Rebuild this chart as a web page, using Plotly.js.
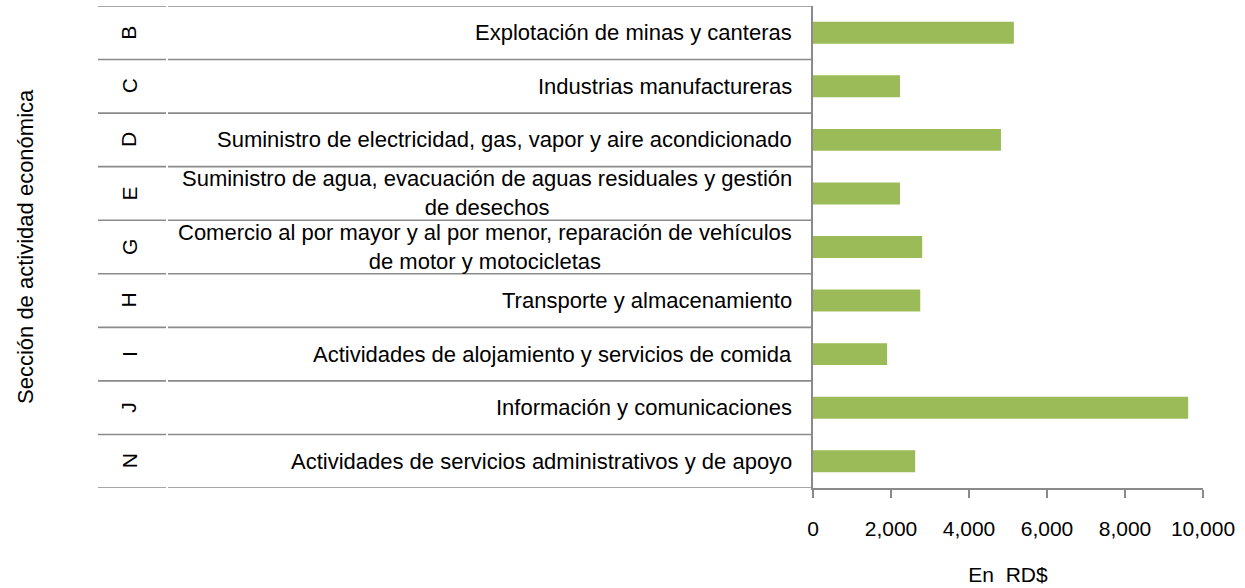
<!DOCTYPE html>
<html>
<head>
<meta charset="utf-8">
<script src="https://cdn.plot.ly/plotly-3.0.1.min.js"></script>
<style>html,body{margin:0;padding:0;background:#fff;}#chart{width:1245px;height:588px;}</style>
</head>
<body>
<div id="chart"></div>
<script>
var letters = ['B','C','D','E','G','H','I','J','N'];
var sections = [
  'Explotación de minas y canteras',
  'Industrias manufactureras',
  'Suministro de electricidad, gas, vapor y aire acondicionado',
  'Suministro de agua, evacuación de aguas residuales y gestión<br>de desechos',
  'Comercio al por mayor y al por menor, reparación de vehículos<br>de motor y motocicletas',
  'Transporte y almacenamiento',
  'Actividades de alojamiento y servicios de comida',
  'Información y comunicaciones',
  'Actividades de servicios administrativos y de apoyo'
];
var values = [5150, 2230, 4820, 2230, 2800, 2750, 1900, 9620, 2620];
var xTicks = [0, 2000, 4000, 6000, 8000, 10000];
var xTickText = ['0', '2,000', '4,000', '6,000', '8,000', '10,000'];
var xTitle = 'En  RD$';
var yTitle = 'Sección de actividad económica';

var FONT = 'Liberation Sans, Arial, sans-serif';
var LINE = '#8a8a8a';
var W = 390, L = 813;
function px(p) { return (p - L) / W; }

var annotations = [];
var shapes = [];
for (var i = 0; i < letters.length; i++) {
  annotations.push({
    xref: 'paper', yref: 'y', x: px(129), y: letters[i],
    text: letters[i], showarrow: false, textangle: -90,
    xanchor: 'center', yanchor: 'middle',
    font: {family: FONT, size: 21, color: '#000'}
  });
  annotations.push({
    xref: 'paper', yref: 'y', x: px(794), y: letters[i],
    text: sections[i], showarrow: false, align: 'center',
    xanchor: 'right', yanchor: 'middle',
    font: {family: FONT, size: 22, color: '#000'}
  });
}
for (var k = 0; k <= letters.length; k++) {
  var yy = k - 0.5;
  shapes.push({type: 'line', xref: 'paper', yref: 'y', x0: px(98), x1: px(166), y0: yy, y1: yy,
    line: {color: LINE, width: 1.6}});
  shapes.push({type: 'line', xref: 'paper', yref: 'y', x0: px(168), x1: 0, y0: yy, y1: yy,
    line: {color: LINE, width: 1.6}});
}
annotations.push({
  xref: 'paper', yref: 'paper', x: px(25), y: 0.5, text: yTitle, showarrow: false,
  textangle: -90, xanchor: 'center', yanchor: 'middle',
  font: {family: FONT, size: 22, color: '#000'}
});

var trace = {
  type: 'bar', orientation: 'h', x: values, y: letters,
  marker: {color: '#9BBB59'}, width: 0.41, hoverinfo: 'x+y'
};

var layout = {
  width: 1245, height: 588,
  margin: {l: L, r: 1245 - 1203, t: 6, b: 100, pad: 0},
  paper_bgcolor: '#fff', plot_bgcolor: '#fff',
  showlegend: false,
  xaxis: {
    range: [0, 10000], tickvals: xTicks, ticktext: xTickText,
    showgrid: false, zeroline: false, showline: true, linecolor: LINE, linewidth: 1.6,
    ticks: 'outside', ticklen: 8, tickcolor: LINE, tickwidth: 1.6,
    ticklabelstandoff: 13,
    tickfont: {family: FONT, size: 21, color: '#000'},
    title: {text: xTitle, font: {family: FONT, size: 21, color: '#000'}, standoff: 28},
    fixedrange: true
  },
  yaxis: {
    type: 'category', categoryorder: 'array', categoryarray: letters,
    range: [letters.length - 0.5, -0.5],
    showticklabels: false, ticks: '', showgrid: false, zeroline: false,
    showline: true, linecolor: LINE, linewidth: 1.6, fixedrange: true
  },
  shapes: shapes,
  annotations: annotations,
  bargap: 0.59
};

Plotly.newPlot('chart', [trace], layout, {displayModeBar: false, staticPlot: true});
</script>
</body>
</html>
